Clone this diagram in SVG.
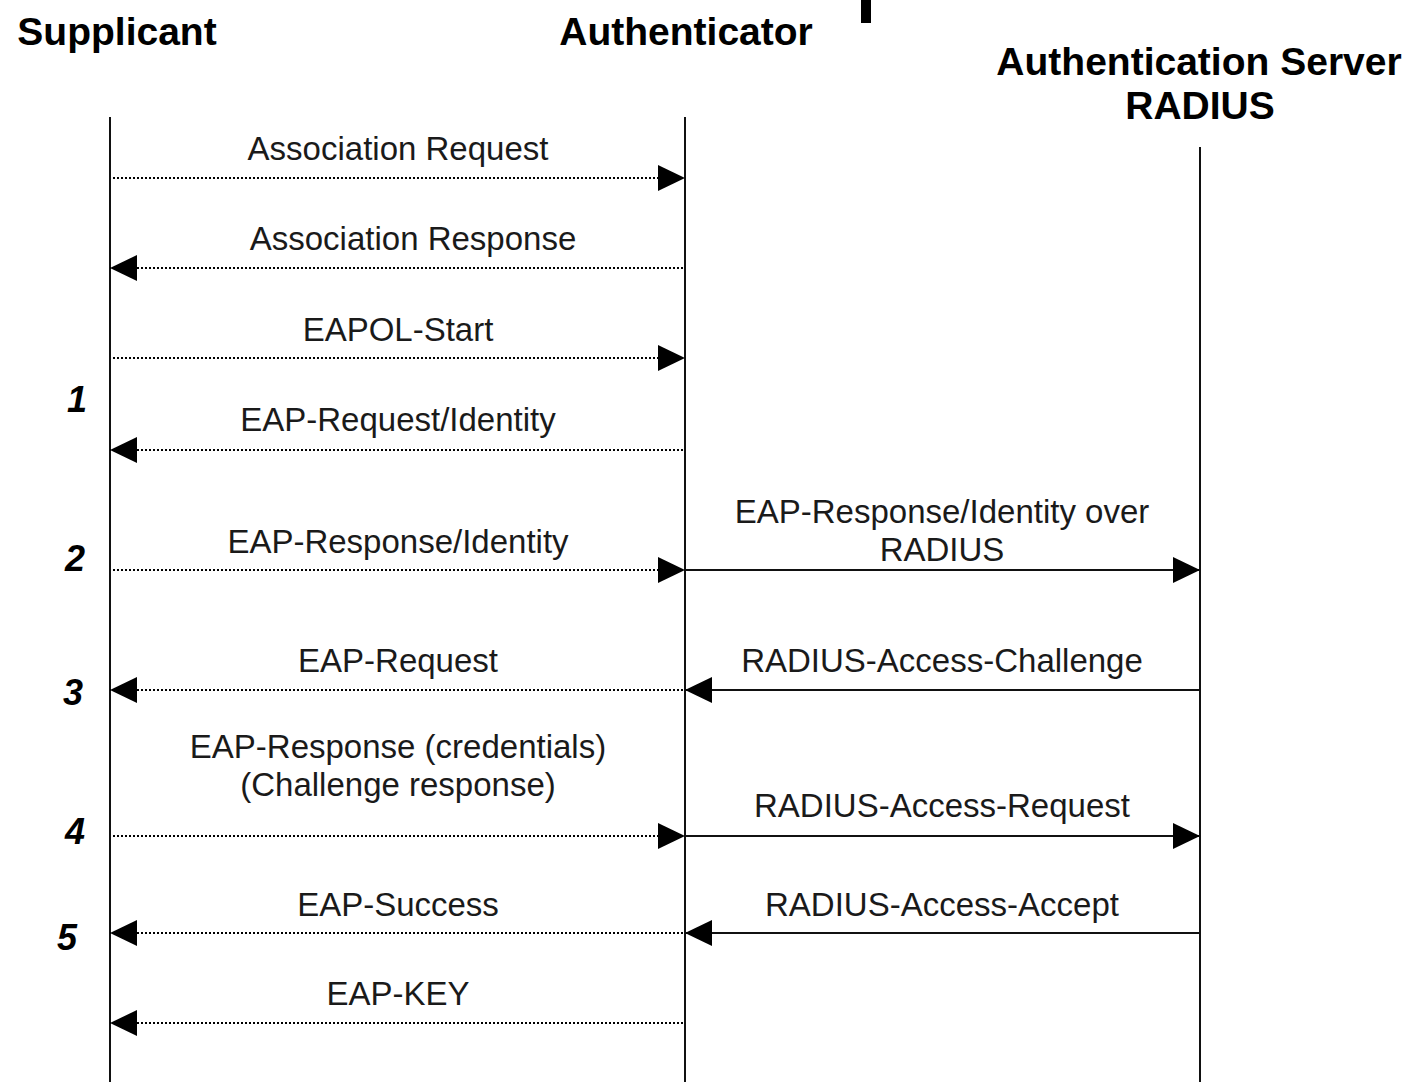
<svg xmlns="http://www.w3.org/2000/svg" width="1416" height="1082" viewBox="0 0 1416 1082">
<style>
.hdr{font-family:"Liberation Sans",Arial,sans-serif;font-weight:bold;font-size:39px;fill:#000;text-anchor:middle}
.lbl{font-family:"Liberation Sans",Arial,sans-serif;font-size:33px;fill:#1a1a1a;text-anchor:middle}
.num{font-family:"Liberation Sans",Arial,sans-serif;font-weight:bold;font-style:italic;font-size:36px;fill:#000;text-anchor:middle}
.life{stroke:#111;stroke-width:2;fill:none}
.dot{stroke:#000;stroke-width:2;stroke-dasharray:2 2;fill:none}
.sol{stroke:#111;stroke-width:2;fill:none}
</style>
<defs>
<marker id="ah" markerUnits="userSpaceOnUse" markerWidth="28" markerHeight="26" refX="27" refY="13" orient="auto">
<path d="M0,0 L27,13 L0,26 z" fill="#000"/>
</marker>
</defs>
<rect width="1416" height="1082" fill="#fff"/>
<rect x="861" y="0" width="10" height="23" fill="#000"/>
<g id="supplicant">
<text class="hdr" x="117" y="45">Supplicant</text>
<line class="life" x1="110" y1="117" x2="110" y2="1082"/>
</g>
<g id="authenticator">
<text class="hdr" x="686" y="45">Authenticator</text>
<line class="life" x1="685" y1="117" x2="685" y2="1082"/>
</g>
<g id="server">
<text class="hdr" x="1199" y="75">Authentication Server</text>
<text class="hdr" x="1200" y="119">RADIUS</text>
<line class="life" x1="1200" y1="147" x2="1200" y2="1082"/>
</g>
<g id="steps">
<text class="num" x="77" y="412">1</text>
<text class="num" x="75" y="571">2</text>
<text class="num" x="73" y="705">3</text>
<text class="num" x="75" y="844">4</text>
<text class="num" x="67" y="950">5</text>
</g>
<g id="connectors">
<line class="dot" x1="113" y1="178" x2="685" y2="178" marker-end="url(#ah)"/>
<text class="lbl" x="398" y="160">Association Request</text>
<line class="dot" x1="683" y1="268" x2="110" y2="268" marker-end="url(#ah)"/>
<text class="lbl" x="413" y="250">Association Response</text>
<line class="dot" x1="113" y1="358" x2="685" y2="358" marker-end="url(#ah)"/>
<text class="lbl" x="398" y="341">EAPOL-Start</text>
<line class="dot" x1="683" y1="450" x2="110" y2="450" marker-end="url(#ah)"/>
<text class="lbl" x="398" y="431">EAP-Request/Identity</text>
<line class="dot" x1="113" y1="570" x2="685" y2="570" marker-end="url(#ah)"/>
<text class="lbl" x="398" y="553">EAP-Response/Identity</text>
<line class="sol" x1="685" y1="570" x2="1200" y2="570" marker-end="url(#ah)"/>
<text class="lbl" x="942" y="523">EAP-Response/Identity over</text>
<text class="lbl" x="942" y="561">RADIUS</text>
<line class="dot" x1="683" y1="690" x2="110" y2="690" marker-end="url(#ah)"/>
<text class="lbl" x="398" y="672">EAP-Request</text>
<line class="sol" x1="1200" y1="690" x2="685" y2="690" marker-end="url(#ah)"/>
<text class="lbl" x="942" y="672">RADIUS-Access-Challenge</text>
<text class="lbl" x="398" y="758">EAP-Response (credentials)</text>
<text class="lbl" x="398" y="796">(Challenge response)</text>
<line class="dot" x1="113" y1="836" x2="685" y2="836" marker-end="url(#ah)"/>
<line class="sol" x1="685" y1="836" x2="1200" y2="836" marker-end="url(#ah)"/>
<text class="lbl" x="942" y="817">RADIUS-Access-Request</text>
<line class="dot" x1="683" y1="933" x2="110" y2="933" marker-end="url(#ah)"/>
<text class="lbl" x="398" y="916">EAP-Success</text>
<line class="sol" x1="1200" y1="933" x2="685" y2="933" marker-end="url(#ah)"/>
<text class="lbl" x="942" y="916">RADIUS-Access-Accept</text>
<line class="dot" x1="683" y1="1023" x2="110" y2="1023" marker-end="url(#ah)"/>
<text class="lbl" x="398" y="1005">EAP-KEY</text>
</g>
</svg>
